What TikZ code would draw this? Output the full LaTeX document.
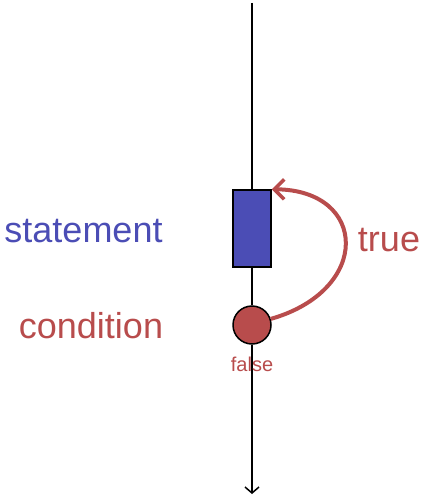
\documentclass[tikz,border=0pt]{standalone}
\usepackage{fontspec}
\setmainfont{Liberation Sans}
\usetikzlibrary{arrows.meta}
\definecolor{stblue}{HTML}{4B4DB5}
\definecolor{cdred}{HTML}{B84C4C}
\tikzset{
  axis/.style={line width=1.5pt, black},
  stmtbox/.style={draw=black, line width=1.5pt, fill=stblue, minimum width=38pt, minimum height=77pt, inner sep=0pt, rectangle},
  condnode/.style={draw=black, line width=1.5pt, fill=cdred, circle, minimum size=38pt, inner sep=0pt},
  looparc/.style={draw=cdred, line width=4pt, -{Straight Barb[length=10pt,width=20pt,line width=3.5pt]}},
  bigtxt/.style={font=\fontsize{36}{40}\selectfont, anchor=base, inner sep=0pt},
  smalltxt/.style={font=\fontsize{20}{22}\selectfont, anchor=base, inner sep=0pt, text=cdred},
}
\begin{document}
\begin{tikzpicture}[x=1pt,y=-1pt]
\useasboundingbox (0,0) rectangle (422,497);
\coordinate (top) at (252,3);
\coordinate (bot) at (252,494);
\node[stmtbox] (stmt) at (252,228.5) {};
\node[condnode] (cond) at (252,325) {};
\draw[axis] (top) -- (stmt.north);
\draw[axis] (stmt.south) -- (cond.north);
\draw[axis, -{Straight Barb[length=6pt,width=14pt,line width=1.5pt]}] (cond.south) -- (bot);
\node[smalltxt] (false) at (252,371) {false};
\node[bigtxt, text=stblue] (stlabel) at (83.5,242) {statement};
\node[bigtxt, text=cdred] (cdlabel) at (91,338) {condition};
\node[bigtxt, text=cdred] (truelabel) at (389,251) {true};
\draw[looparc] (cond.18) .. controls (372,290) and (368,190) .. (stmt.north east);
\end{tikzpicture}
\end{document}
